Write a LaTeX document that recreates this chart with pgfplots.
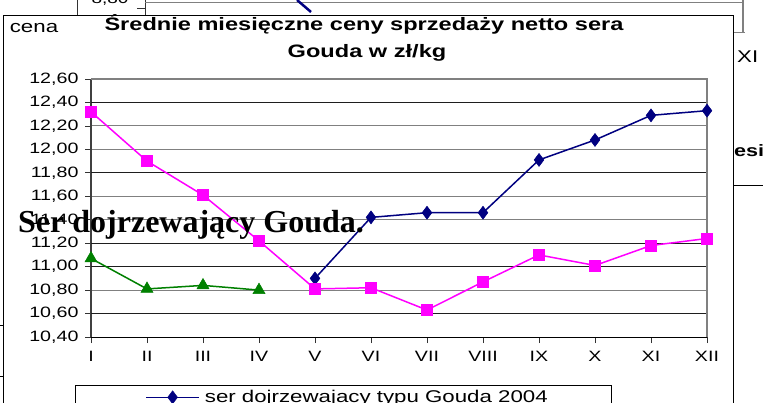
\documentclass[border=0pt]{standalone}
\usepackage{pgfplots}
\pgfplotsset{compat=1.18}
\usepackage{fontspec}
\setmainfont{Liberation Sans}
\newfontfamily\wsans{Liberation Sans}[FakeStretch=1.31]
\newfontfamily\tser{Liberation Serif}
\definecolor{navyb}{RGB}{0,0,128}
\definecolor{magb}{RGB}{255,0,255}
\definecolor{greenb}{RGB}{0,128,0}
\definecolor{gridg}{RGB}{128,128,128}
\definecolor{gridk}{RGB}{30,30,30}
\begin{document}
\begin{tikzpicture}[x=1pt,y=1pt]
\useasboundingbox (0,0) rectangle (763,402);
\clip (0,0) rectangle (763,402);
% background clutter (other charts behind)
\draw[black!80, line width=0.8pt] (77,402) -- (77,387);
\node[font=\wsans\fontsize{14.5}{15}\selectfont, anchor=base] at (110,398) {8,80};
\draw[black!80, line width=0.8pt] (137,394) -- (145,394);
\draw[black!80, line width=0.8pt] (145,402) -- (145,387);
\draw[gridg, line width=1pt] (145,399) -- (743,399);
\draw[gridg, line width=1.2pt] (743,402) -- (743,369);
\draw[gridg, line width=1pt] (733,369) -- (745,369);
\draw[navyb, line width=2.5pt] (297,402) -- (311,390);
\node[font=\wsans\fontsize{17}{17}\selectfont, anchor=base west, inner sep=0] at (737,339) {XI};
\node[font=\wsans\bfseries\fontsize{16.5}{17}\selectfont, anchor=base west, inner sep=0] at (734,245) {esia};
\draw[black, line width=0.8pt] (733,217) -- (763,217);
\draw[black, line width=0.8pt] (0,77) -- (4,77);
\draw[black, line width=0.8pt] (0,26) -- (4,26);
% main chart frame
\draw[black, line width=0.8pt, fill=white] (3,-2) -- (3,387) -- (733,387) -- (733,-2);
\node[font=\wsans\fontsize{17}{18}\selectfont, anchor=base] at (34,369) {cena};
\node[font=\wsans\bfseries\fontsize{18}{19}\selectfont, anchor=base] at (364,371) {Średnie miesięczne ceny sprzedaży netto sera};
\node[font=\wsans\bfseries\fontsize{18}{19}\selectfont, anchor=base] at (367,344) {Gouda w zł/kg};
\begin{axis}[
  at={(91pt,65pt)}, anchor=south west,
  scale only axis, width=616pt, height=258pt,
  xmin=1, xmax=12, ymin=10.4, ymax=12.6,
  xtick={1,2,3,4,5,6,7,8,9,10,11,12},
  xticklabels={I,II,III,IV,V,VI,VII,VIII,IX,X,XI,XII},
  ytick={10.4,10.6,10.8,11.0,11.2,11.4,11.6,11.8,12.0,12.2,12.4,12.6},
  yticklabel style={xshift=-3pt, /pgf/number format/.cd, fixed, fixed zerofill, precision=2, use comma, assume math mode=true},
  tick label style={font=\wsans\fontsize{15}{15}\selectfont, black},
  axis x line*=bottom, axis y line*=left,
  x axis line style={black, line width=1pt},
  y axis line style={black!75, line width=1.2pt},
  tick align=outside, major tick length=6pt,
  tick style={black!80, line width=0.8pt},
  ymajorgrids, grid style={gridg, line width=1pt},
  extra y ticks={10.6,11.0,11.2,11.8,12.4},
  extra y tick labels={},
  extra y tick style={grid style={gridk, line width=0.9pt}, major tick length=0pt},
  xticklabel style={yshift=-5pt},
  clip=false,
  legend style={at={(-0.026,-0.186)}, anchor=north west, draw=black, line width=0.8pt,
    inner xsep=0pt, inner ysep=3pt, font=\wsans\fontsize{17}{18}\selectfont, fill=white},
  legend cell align=left,
  legend image code/.code={\path (-70pt,0pt); \draw[mark repeat=2,mark phase=2,#1] plot coordinates {(0pt,0pt) (26.5pt,0pt) (53pt,0pt)};},
]
\draw[gridg, line width=1.2pt] (axis cs:1,12.6) -- (axis cs:12,12.6) -- (axis cs:12,10.4);
\addplot[navyb, line width=1.5pt, mark=diamond*, mark size=6.5pt, mark options={fill=navyb, draw=navyb, line width=0.5pt}]
  coordinates {(5,10.90) (6,11.42) (7,11.46) (8,11.46) (9,11.91) (10,12.08) (11,12.29) (12,12.33)};
\addlegendentry{\hspace{3pt}\makebox[405pt][l]{ser dojrzewajacy typu Gouda 2004}}
\addplot[magb, line width=1.5pt, mark=square*, mark size=5.5pt, mark options={fill=magb, draw=magb, line width=0.5pt}, forget plot]
  coordinates {(1,12.32) (2,11.90) (3,11.61) (4,11.22) (5,10.81) (6,10.82) (7,10.63) (8,10.87) (9,11.10) (10,11.01) (11,11.18) (12,11.24)};
\addplot[greenb, line width=1.5pt, mark=triangle*, mark size=7pt, mark options={fill=greenb, draw=greenb, line width=0.5pt}, forget plot]
  coordinates {(1,11.07) (2,10.81) (3,10.84) (4,10.80)};
\end{axis}
\node[font=\tser\bfseries\fontsize{32}{34}\selectfont, anchor=base west, inner sep=0] at (18,169) {Ser dojrzewający Gouda.};
\end{tikzpicture}
\end{document}
